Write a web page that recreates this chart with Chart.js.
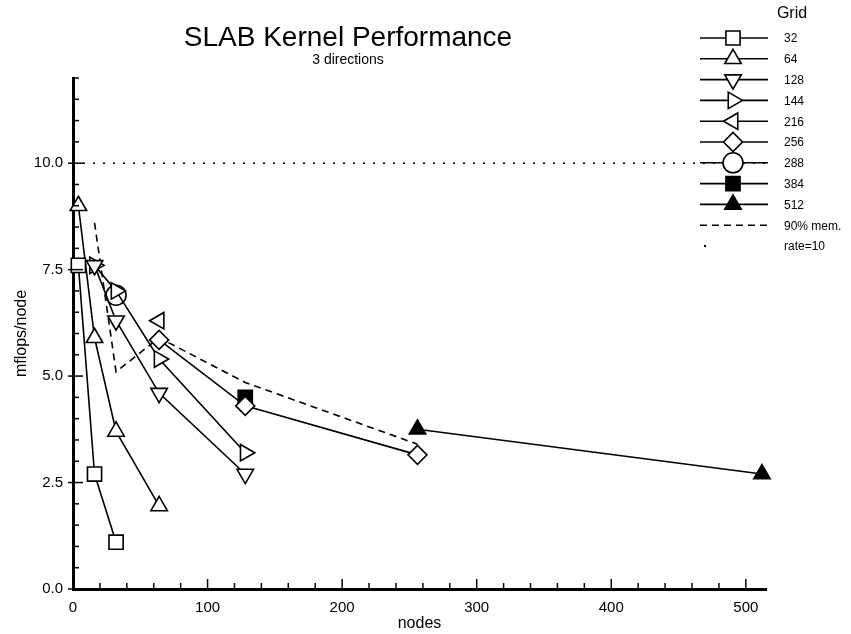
<!DOCTYPE html>
<html>
<head>
<meta charset="utf-8">
<title>SLAB Kernel Performance</title>
<script src="https://cdn.jsdelivr.net/npm/chart.js@4.4.0/dist/chart.umd.min.js"></script>
<style>
  html, body { margin: 0; padding: 0; background: #fff; }
  #wrap { width: 851px; height: 634px; }
</style>
</head>
<body>
<div id="wrap"><canvas id="slabChart" width="851" height="634"></canvas></div>
<script>
// grid sizes (legend)
const gridLabels = ['32', '64', '128', '144', '216', '256', '288', '384', '512'];

// nodes vs mflops/node, one pair per grid size
const nodes32 = [4, 16, 32];
const mflops32 = [7.6, 2.7, 1.1];
const nodes64 = [4, 16, 32, 64];
const mflops64 = [9.0, 5.9, 3.7, 1.95];
const nodes128 = [16, 32, 64, 128];
const mflops128 = [7.6, 6.3, 4.6, 2.7];
const nodes144 = [16, 32, 64, 128];
const mflops144 = [7.6, 7.0, 5.4, 3.2];
const nodes216 = [64];
const mflops216 = [6.3];
const nodes256 = [64, 128, 256];
const mflops256 = [5.85, 4.3, 3.15];
const nodes288 = [32];
const mflops288 = [6.9];
const nodes384 = [128];
const mflops384 = [4.5];
const nodes512 = [256, 512];
const mflops512 = [3.75, 2.7];

// 90% memory bandwidth line and the rate=10 reference
const memNodes = [16, 32, 64, 128, 256];
const mem90 = [8.6, 5.1, 5.9, 4.85, 3.4];
const rateNodes = [0, 515];
const rate10 = [10, 10];

// tick labels
const xTickLabels = ['0', '100', '200', '300', '400', '500'];
const yTickLabels = ['0.0', '2.5', '5.0', '7.5', '10.0'];

const FONT = "'Liberation Sans', Arial, Helvetica, sans-serif";

function pts(xs, ys) {
    return xs.map((x, i) => ({ x: x, y: ys[i] }));
}

// marker style per grid
const markers = {
    '32':  { style: 'rect', rot: 0, fill: '#fff', r: 10 },
    '64':  { style: 'triangle', rot: 0, fill: '#fff', r: 9.5 },
    '128': { style: 'triangle', rot: 180, fill: '#fff', r: 9.5 },
    '144': { style: 'triangle', rot: 90, fill: '#fff', r: 9.5 },
    '216': { style: 'triangle', rot: 270, fill: '#fff', r: 9.5 },
    '256': { style: 'rectRot', rot: 0, fill: '#fff', r: 9.5 },
    '288': { style: 'circle', rot: 0, fill: '#fff', r: 10 },
    '384': { style: 'rect', rot: 0, fill: '#000', r: 10 },
    '512': { style: 'triangle', rot: 0, fill: '#000', r: 9.5 }
};

const seriesData = {
    '32': pts(nodes32, mflops32),
    '64': pts(nodes64, mflops64),
    '128': pts(nodes128, mflops128),
    '144': pts(nodes144, mflops144),
    '216': pts(nodes216, mflops216),
    '256': pts(nodes256, mflops256),
    '288': pts(nodes288, mflops288),
    '384': pts(nodes384, mflops384),
    '512': pts(nodes512, mflops512)
};

const datasets = gridLabels.map(g => ({
    label: g,
    data: seriesData[g],
    borderColor: '#000',
    borderWidth: 1.6,
    pointStyle: markers[g].style,
    rotation: markers[g].rot,
    pointRadius: markers[g].r,
    pointBackgroundColor: markers[g].fill,
    pointBorderColor: '#000',
    pointBorderWidth: 1.6,
    clip: false
}));

datasets.push({
    label: '90% mem.',
    data: pts(memNodes, mem90),
    borderColor: '#000',
    borderWidth: 1.6,
    borderDash: [7, 5],
    pointRadius: 0,
    clip: false
});
datasets.push({
    label: 'rate=10',
    data: pts(rateNodes, rate10),
    borderColor: '#000',
    borderWidth: 1.5,
    borderDash: [2, 8],
    pointRadius: 0,
    clip: false
});

// titles, inward tick marks and the legend box
const decorations = {
    id: 'decorations',
    afterDraw(chart) {
        const ctx = chart.ctx;
        const area = chart.chartArea;
        const xs = chart.scales.x;
        const ys = chart.scales.y;
        ctx.save();

        // tick marks pointing into the plot
        ctx.strokeStyle = '#000';
        ctx.lineWidth = 1.5;
        ys.ticks.forEach(t => {
            const py = ys.getPixelForValue(t.value);
            const major = Math.abs(t.value % 2.5) < 1e-6;
            ctx.beginPath();
            ctx.moveTo(area.left - (major ? 5 : 0), py);
            ctx.lineTo(area.left + (major ? 10 : 6), py);
            ctx.stroke();
        });
        xs.ticks.forEach(t => {
            if (t.value % 20 !== 0) return;
            const px = xs.getPixelForValue(t.value);
            const major = t.value % 100 === 0;
            ctx.beginPath();
            ctx.moveTo(px, area.bottom);
            ctx.lineTo(px, area.bottom - (major ? 10 : 6));
            ctx.stroke();
        });

        // title
        ctx.fillStyle = '#000';
        ctx.textAlign = 'center';
        ctx.textBaseline = 'middle';
        ctx.font = '28px ' + FONT;
        ctx.fillText('SLAB Kernel Performance', 348, 38);
        ctx.font = '14px ' + FONT;
        ctx.fillText('3 directions', 348, 60);

        // legend
        ctx.font = '16px ' + FONT;
        ctx.fillText('Grid', 792, 14);
        ctx.font = '12px ' + FONT;
        ctx.textAlign = 'left';
        const rowY = i => 38 + i * 20.8;
        gridLabels.forEach((g, i) => {
            const y = rowY(i);
            ctx.setLineDash([]);
            ctx.lineWidth = 1.6;
            ctx.beginPath();
            ctx.moveTo(700, y);
            ctx.lineTo(768, y);
            ctx.stroke();
            const m = markers[g];
            ctx.fillStyle = m.fill;
            ctx.strokeStyle = '#000';
            Chart.helpers.drawPoint(ctx, {
                pointStyle: m.style, rotation: m.rot, radius: m.r, borderWidth: 1.6
            }, 733, y);
            ctx.fillStyle = '#000';
            ctx.fillText(g, 784, y + 1);
        });
        let y = rowY(9);
        ctx.setLineDash([7, 5]);
        ctx.beginPath();
        ctx.moveTo(700, y);
        ctx.lineTo(768, y);
        ctx.stroke();
        ctx.setLineDash([]);
        ctx.fillText('90% mem.', 784, y + 1);
        y = rowY(10);
        ctx.fillRect(704, y - 1, 2, 2);
        ctx.fillText('rate=10', 784, y + 1);

        ctx.restore();
    }
};

new Chart(document.getElementById('slabChart'), {
    type: 'line',
    data: { datasets: datasets },
    plugins: [decorations],
    options: {
        responsive: false,
        animation: false,
        layout: { padding: { left: 0, right: 85, top: 78, bottom: 0 } },
        plugins: {
            legend: { display: false },
            title: { display: false },
            tooltip: { enabled: false }
        },
        scales: {
            x: {
                type: 'linear',
                min: 0,
                max: 515,
                afterFit: s => { s.height = 45; },
                border: { display: true, color: '#000', width: 3 },
                grid: { display: false, drawTicks: false },
                ticks: {
                    stepSize: 20,
                    autoSkip: false,
                    includeBounds: false,
                    maxRotation: 0,
                    padding: 10,
                    color: '#000',
                    font: { family: FONT, size: 15 },
                    callback: v => xTickLabels.includes(String(v)) ? String(v) : ''
                },
                title: {
                    display: true,
                    text: 'nodes',
                    color: '#000',
                    font: { family: FONT, size: 16 },
                    padding: { top: 0, bottom: 1 }
                }
            },
            y: {
                min: 0,
                max: 12,
                afterFit: s => { s.width = 73; },
                border: { display: true, color: '#000', width: 3 },
                grid: { display: false, drawTicks: false },
                ticks: {
                    stepSize: 0.5,
                    autoSkip: false,
                    padding: 10,
                    color: '#000',
                    font: { family: FONT, size: 15 },
                    callback: v => yTickLabels.includes(v.toFixed(1)) ? v.toFixed(1) : ''
                },
                title: {
                    display: true,
                    text: 'mflops/node',
                    color: '#000',
                    font: { family: FONT, size: 16 },
                    padding: { top: 12, bottom: 0 }
                }
            }
        }
    }
});
</script>
</body>
</html>
